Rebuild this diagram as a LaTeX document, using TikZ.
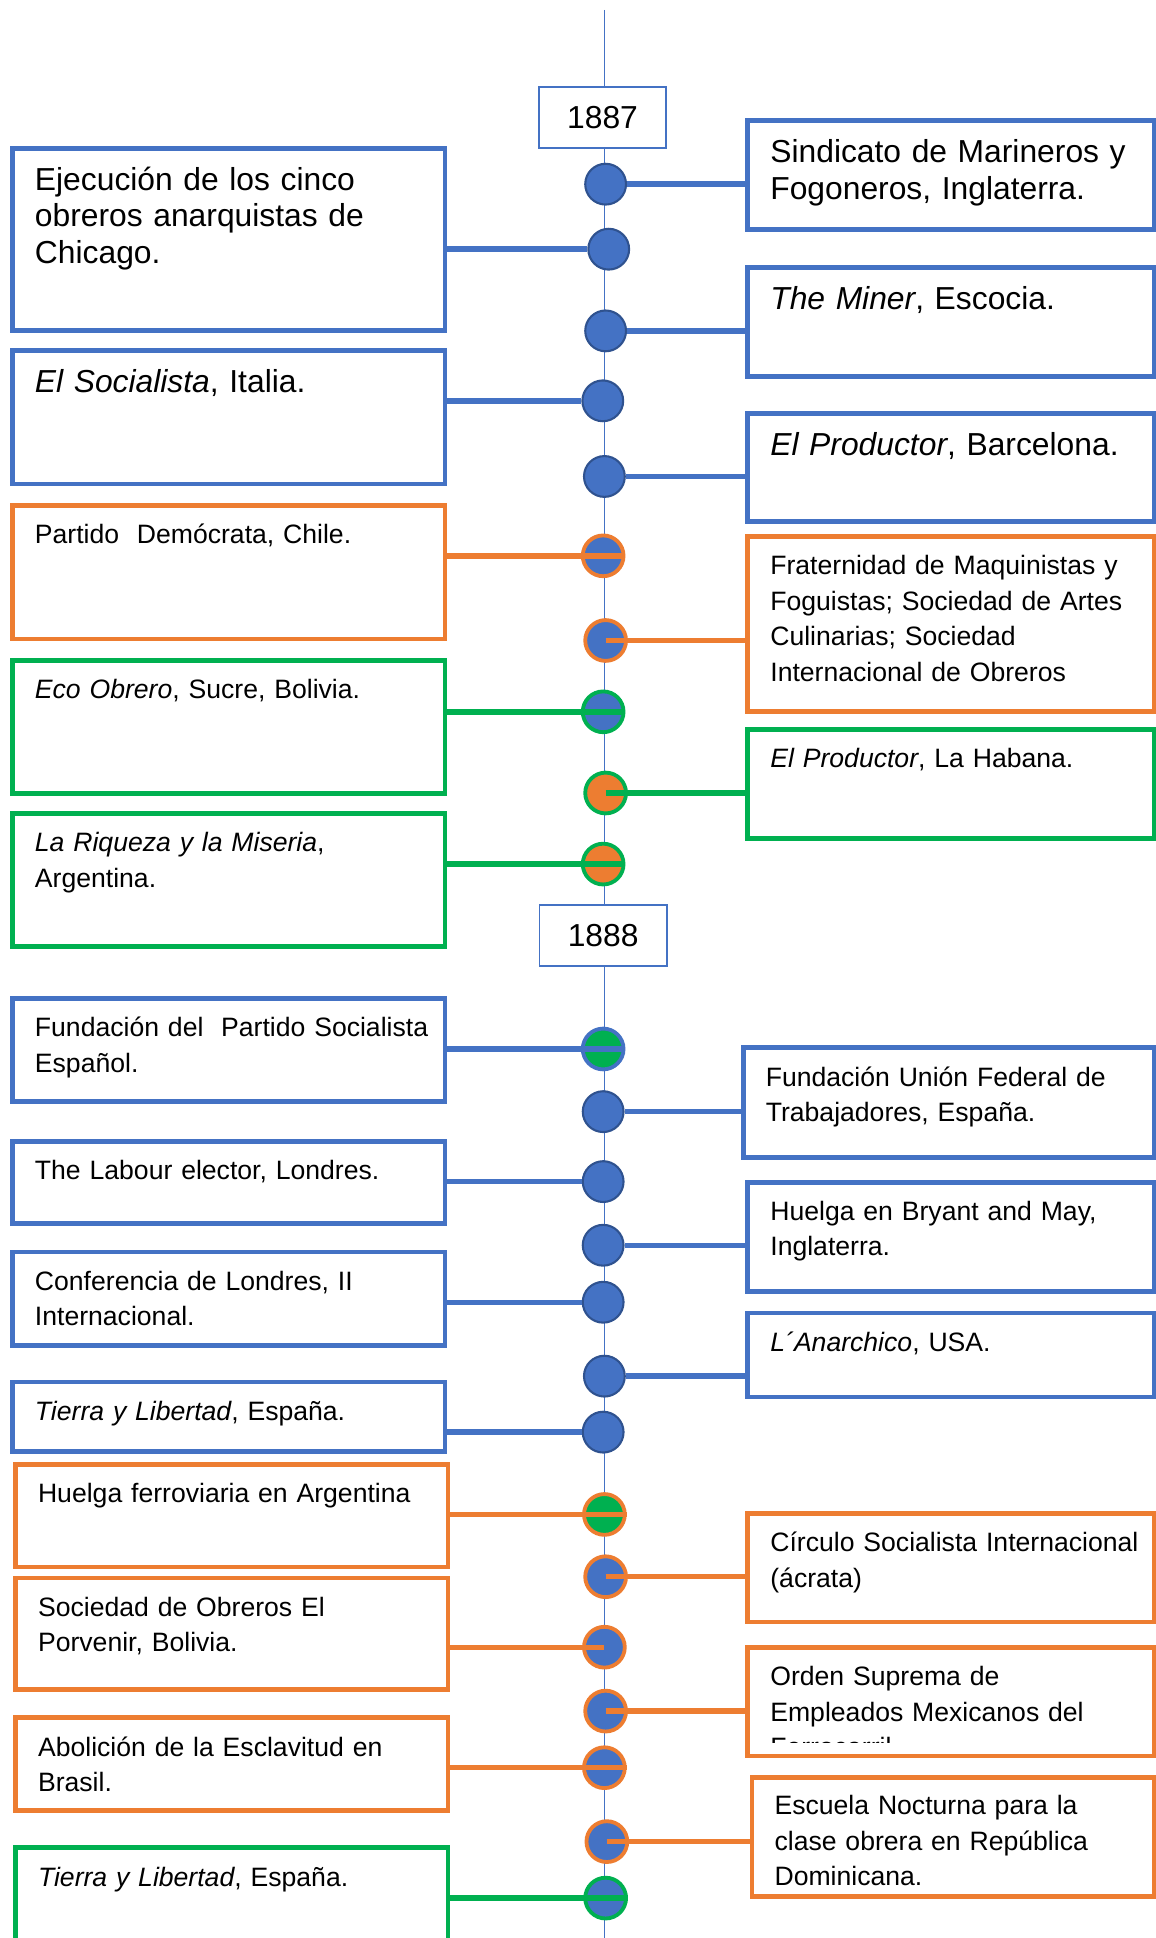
\documentclass[tikz,border=0pt]{standalone}
\usepackage{fontspec}
\setmainfont{Liberation Sans}
\usetikzlibrary{positioning, calc}
\definecolor{tlblue}{RGB}{68, 114, 196}
\definecolor{tldark}{RGB}{47, 82, 143}
\definecolor{tlorange}{RGB}{237, 125, 49}
\definecolor{tlgreen}{RGB}{0, 176, 80}
\newcommand{\pxu}{0.025cm}

\begin{document}
\begin{tikzpicture}[x=0.025cm, y=-0.025cm,
  evbox/.style={draw=#1, line width=2.8pt, fill=white, anchor=north west, inner sep=0, outer sep=0},
  lbox/.style={evbox=#1, minimum width=350*\pxu},
  rbox/.style={evbox=#1, minimum width=329*\pxu},
  bigtxt/.style={anchor=base west, inner sep=0, align=left, text width=325*\pxu, font=\fontsize{18.3}{21.1}\selectfont},
  smalltxt/.style={anchor=base west, inner sep=0, align=left, text width=325*\pxu, font=\fontsize{15.3}{20.4}\selectfont},
  yearbox/.style={draw=tlblue, line width=1.1pt, fill=white, minimum width=103*\pxu, minimum height=49*\pxu, inner sep=0, font=\fontsize{18.3}{21.1}\selectfont},
  dot/.style={circle, minimum size=33*\pxu, inner sep=0, fill=tlblue, draw=tldark, line width=1.2pt},
  cdot/.style={dot, draw=#1, line width=2.2pt},
  conn/.style={draw=#1, line width=3.1pt}
]
  \useasboundingbox (0,0) rectangle (935,1568);

  % Spine
  \coordinate (stop) at (489, 8);
  \coordinate (sbot) at (489, 1568);
  \draw[tlblue, line width=0.6pt] (stop) -- (sbot);

  % Year 1887
  \node[yearbox] (y1887) at (487.5, 95.1) {1887};

  % Sindicato de Marineros
  \node[rbox=tlblue, minimum height=88.2*\pxu] (sind) at (605, 97.7) {};
  \node[bigtxt] (tsind) at ([shift={(18, 34)}]sind.north west) {Sindicato de Marineros y\\Fogoneros, Inglaterra.};
  \node[dot] (dsind) at (490, 149) {};
  \draw[conn=tlblue] (dsind.east) -- (dsind -| sind.west);

  % Ejecucion
  \node[lbox=tlblue, minimum height=147.8*\pxu] (ejec) at (10, 119.8) {};
  \node[bigtxt] (tejec) at ([shift={(18, 34)}]ejec.north west) {Ejecución de los cinco\\obreros anarquistas de\\Chicago.};
  \node[dot] (dejec) at (492.5, 201.6) {};
  \draw[conn=tlblue] (ejec.east |- dejec) -- (dejec.west);

  % The Miner
  \node[rbox=tlblue, minimum height=88.2*\pxu] (miner) at (605, 216.3) {};
  \node[bigtxt] (tminer) at ([shift={(18, 34)}]miner.north west) {\textit{The Miner}, Escocia.};
  \node[dot] (dminer) at (490, 267.7) {};
  \draw[conn=tlblue] (dminer.east) -- (dminer -| miner.west);

  % El Socialista
  \node[lbox=tlblue, minimum height=107.9*\pxu] (soci) at (10, 283.7) {};
  \node[bigtxt] (tsoci) at ([shift={(18, 34)}]soci.north west) {\textit{El Socialista}, Italia.};
  \node[dot] (dsoci) at (487.7, 324.3) {};
  \draw[conn=tlblue] (soci.east |- dsoci) -- (dsoci.west);

  % El Productor, Barcelona
  \node[rbox=tlblue, minimum height=87.4*\pxu] (prodb) at (605, 334.4) {};
  \node[bigtxt] (tprodb) at ([shift={(18, 34)}]prodb.north west) {\textit{El Productor}, Barcelona.};
  \node[dot] (dprodb) at (489, 385.5) {};
  \draw[conn=tlblue] (dprodb.east) -- (dprodb -| prodb.west);

  % Partido Democrata
  \node[lbox=tlorange, minimum height=108*\pxu] (part) at (10, 409) {};
  \node[smalltxt] (tpart) at ([shift={(18, 31)}]part.north west) {Partido\ \ Demócrata, Chile.};
  \node[cdot=tlorange] (dpart) at (488, 449.7) {};
  \draw[conn=tlorange] (part.east |- dpart) -- (dpart.east);

  % Fraternidad de Maquinistas
  \node[rbox=tlorange, minimum height=141.7*\pxu] (frat) at (605, 434) {};
  \node[smalltxt] (tfrat) at ([shift={(18, 31)}]frat.north west) {Fraternidad de Maquinistas y\\Foguistas; Sociedad de Artes\\Culinarias; Sociedad\\Internacional de Obreros};
  \node[cdot=tlorange] (dfrat) at (490, 518.2) {};
  \draw[conn=tlorange] (dfrat.center) -- (dfrat -| frat.west);

  % Eco Obrero
  \node[lbox=tlgreen, minimum height=107.3*\pxu] (eco) at (10, 534.5) {};
  \node[smalltxt] (teco) at ([shift={(18, 31)}]eco.north west) {\textit{Eco Obrero}, Sucre, Bolivia.};
  \node[cdot=tlgreen] (deco) at (488, 575.9) {};
  \draw[conn=tlgreen] (eco.east |- deco) -- (deco.east);

  % El Productor, La Habana
  \node[rbox=tlgreen, minimum height=87.9*\pxu] (hab) at (605, 590.3) {};
  \node[smalltxt] (thab) at ([shift={(18, 31)}]hab.north west) {\textit{El Productor}, La Habana.};
  \node[cdot=tlgreen, fill=tlorange] (dhab) at (490, 641.6) {};
  \draw[conn=tlgreen] (dhab.center) -- (dhab -| hab.west);

  % La Riqueza y la Miseria
  \node[lbox=tlgreen, minimum height=107.8*\pxu] (riq) at (10, 658) {};
  \node[smalltxt] (triq) at ([shift={(18, 31)}]riq.north west) {\textit{La Riqueza y la Miseria},\\Argentina.};
  \node[cdot=tlgreen, fill=tlorange] (driq) at (488, 699.1) {};
  \draw[conn=tlgreen] (riq.east |- driq) -- (driq.east);

  % Year 1888
  \node[yearbox] (y1888) at (488, 757) {1888};

  % Fundacion del Partido Socialista
  \node[lbox=tlblue, minimum height=83.2*\pxu] (pse) at (10, 808) {};
  \node[smalltxt] (tpse) at ([shift={(18, 31)}]pse.north west) {Fundación del\ \ Partido Socialista\\Español.};
  \node[cdot=tlblue, fill=tlgreen] (dpse) at (488, 848.7) {};
  \draw[conn=tlblue] (pse.east |- dpse) -- (dpse.east);

  % Union Federal de Trabajadores
  \node[evbox=tlblue, minimum width=332.7*\pxu, minimum height=88.4*\pxu] (uft) at (601.3, 847.8) {};
  \node[smalltxt] (tuft) at ([shift={(18, 31)}]uft.north west) {Fundación Unión Federal de\\Trabajadores, España.};
  \node[dot] (duft) at (488, 899.4) {};
  \draw[conn=tlblue] (duft.east) -- (duft -| uft.west);

  % The Labour elector
  \node[lbox=tlblue, minimum height=66.6*\pxu] (lab) at (10, 923.5) {};
  \node[smalltxt] (tlab) at ([shift={(18, 31)}]lab.north west) {The Labour elector, Londres.};
  \node[dot] (dlab) at (488, 956) {};
  \draw[conn=tlblue] (lab.east |- dlab) -- (dlab.west);

  % Bryant and May
  \node[rbox=tlblue, minimum height=88.2*\pxu] (bry) at (605, 956.4) {};
  \node[smalltxt] (tbry) at ([shift={(18, 31)}]bry.north west) {Huelga en Bryant and May,\\Inglaterra.};
  \node[dot] (dbry) at (488, 1007.5) {};
  \draw[conn=tlblue] (dbry.east) -- (dbry -| bry.west);

  % Conferencia de Londres
  \node[lbox=tlblue, minimum height=75.5*\pxu] (conf) at (10, 1013) {};
  \node[smalltxt] (tconf) at ([shift={(18, 31)}]conf.north west) {Conferencia de Londres, II\\Internacional.};
  \node[dot] (dconf) at (488, 1053.6) {};
  \draw[conn=tlblue] (conf.east |- dconf) -- (dconf.west);

  % L'Anarchico
  \node[rbox=tlblue, minimum height=68*\pxu] (anar) at (605, 1062.3) {};
  \node[smalltxt] (tanar) at ([shift={(18, 31)}]anar.north west) {\textit{L´Anarchico}, USA.};
  \node[dot] (danar) at (489, 1113.4) {};
  \draw[conn=tlblue] (danar.east) -- (danar -| anar.west);

  % Tierra y Libertad (blue)
  \node[lbox=tlblue, minimum height=56*\pxu] (tyl) at (10, 1118.1) {};
  \node[smalltxt] (ttyl) at ([shift={(18, 31)}]tyl.north west) {\textit{Tierra y Libertad}, España.};
  \node[dot] (dtyl) at (488, 1158.7) {};
  \draw[conn=tlblue] (tyl.east |- dtyl) -- (dtyl.west);

  % Huelga ferroviaria
  \node[lbox=tlorange, minimum height=82.8*\pxu] (ferro) at (12.5, 1185) {};
  \node[smalltxt] (tferro) at ([shift={(18, 31)}]ferro.north west) {Huelga ferroviaria en Argentina};
  \node[cdot=tlorange, fill=tlgreen] (dferro) at (489, 1225.3) {};
  \draw[conn=tlorange] (ferro.east |- dferro) -- (dferro.east);

  % Circulo Socialista
  \node[rbox=tlorange, minimum height=87.7*\pxu] (circ) at (605, 1224.6) {};
  \node[smalltxt] (tcirc) at ([shift={(18, 31)}]circ.north west) {Círculo Socialista Internacional\\(ácrata)};
  \node[cdot=tlorange] (dcirc) at (490, 1275.7) {};
  \draw[conn=tlorange] (dcirc.center) -- (dcirc -| circ.west);

  % Sociedad de Obreros El Porvenir
  \node[lbox=tlorange, minimum height=90.1*\pxu] (porv) at (12.5, 1276.7) {};
  \node[smalltxt] (tporv) at ([shift={(18, 31)}]porv.north west) {Sociedad de Obreros El\\Porvenir, Bolivia.};
  \node[cdot=tlorange] (dporv) at (489, 1332.7) {};
  \draw[conn=tlorange] (porv.east |- dporv) -- (dporv.center);

  % Orden Suprema
  \node[rbox=tlorange, minimum height=87.7*\pxu] (orden) at (605, 1333) {};
  \begin{scope}
    \clip (orden.north west) rectangle ($(orden.south east)+(0, -10.7)$);
    \node[smalltxt] (torden) at ([shift={(18, 31)}]orden.north west) {Orden Suprema de\\Empleados Mexicanos del\\Ferrocarril};
  \end{scope}
  \node[cdot=tlorange] (dorden) at (490, 1384.4) {};
  \draw[conn=tlorange] (dorden.center) -- (dorden -| orden.west);

  % Abolicion de la Esclavitud
  \node[lbox=tlorange, minimum height=74.7*\pxu] (abol) at (12.5, 1389.9) {};
  \node[smalltxt] (tabol) at ([shift={(18, 31)}]abol.north west) {Abolición de la Esclavitud en\\Brasil.};
  \node[cdot=tlorange] (dabol) at (489, 1430.2) {};
  \draw[conn=tlorange] (abol.east |- dabol) -- (dabol.east);

  % Escuela Nocturna
  \node[evbox=tlorange, minimum width=325.6*\pxu, minimum height=96.5*\pxu] (esc) at (608.4, 1438.2) {};
  \begin{scope}
    \clip (esc.north west) rectangle ($(esc.south east)+(0, -7.7)$);
    \node[smalltxt] (tesc) at ([shift={(18, 30)}]esc.north west) {Escuela Nocturna para la\\clase obrera en República\\Dominicana.};
  \end{scope}
  \node[cdot=tlorange] (desc) at (491, 1490) {};
  \draw[conn=tlorange] (desc.center) -- (desc -| esc.west);

  % Tierra y Libertad (green)
  \node[lbox=tlgreen, minimum height=120*\pxu] (tyl2) at (12.5, 1495) {};
  \node[smalltxt] (ttyl2) at ([shift={(18, 31)}]tyl2.north west) {\textit{Tierra y Libertad}, España.};
  \node[cdot=tlgreen] (dtyl2) at (490, 1535.7) {};
  \draw[conn=tlgreen] (tyl2.east |- dtyl2) -- (dtyl2.east);
\end{tikzpicture}
\end{document}
